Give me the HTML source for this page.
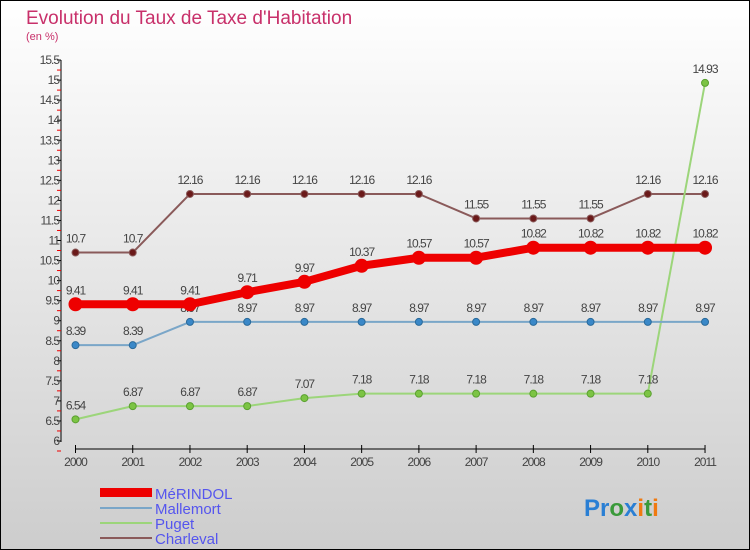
<!DOCTYPE html>
<html><head><meta charset="utf-8"><style>
body{margin:0}
#c{position:relative;width:750px;height:550px;overflow:hidden;font-family:"Liberation Sans",sans-serif}
</style></head><body>
<div id="c">
<svg width="750" height="550" xmlns="http://www.w3.org/2000/svg">
<defs><linearGradient id="bg" x1="0" y1="0" x2="0" y2="1"><stop offset="0" stop-color="#ffffff"/><stop offset="1" stop-color="#cdcdcd"/></linearGradient></defs>
<rect x="0.5" y="0.5" width="749" height="549" fill="url(#bg)" stroke="#000"/>
<text x="26" y="24" font-size="19" fill="#c8306a">Evolution du Taux de Taxe d'Habitation</text>
<text x="26" y="40" font-size="11" fill="#c8306a">(en %)</text>
<g id="axes"></g>
<g id="series"></g>
<g>
<rect x="100" y="488" width="52" height="9" fill="#e00"/>
<text x="155" y="499" font-size="15" fill="#5555ee">MéRINDOL</text>
<line x1="100" y1="508" x2="152" y2="508" stroke="#7aa6c8" stroke-width="2"/>
<text x="155" y="514" font-size="15" fill="#5555ee">Mallemort</text>
<line x1="100" y1="523" x2="152" y2="523" stroke="#9cd57a" stroke-width="2"/>
<text x="155" y="529" font-size="15" fill="#5555ee">Puget</text>
<line x1="100" y1="538" x2="152" y2="538" stroke="#8a5a5a" stroke-width="2"/>
<text x="155" y="544" font-size="15" fill="#5555ee">Charleval</text>
</g>
<text x="584" y="516" font-size="24" font-weight="bold"><tspan fill="#2a7fd4">Pr</tspan><tspan fill="#3a9a3a">o</tspan><tspan fill="#2a7fd4">x</tspan><tspan fill="#f07a10">i</tspan><tspan fill="#3a9a3a">t</tspan><tspan fill="#f07a10">i</tspan></text>
</svg>
</div>
<script>
const years=[2000,2001,2002,2003,2004,2005,2006,2007,2008,2009,2010,2011];
const merindol=[9.41,9.41,9.41,9.71,9.97,10.37,10.57,10.57,10.82,10.82,10.82,10.82];
const mallemort=[8.39,8.39,8.97,8.97,8.97,8.97,8.97,8.97,8.97,8.97,8.97,8.97];
const puget=[6.54,6.87,6.87,6.87,7.07,7.18,7.18,7.18,7.18,7.18,7.18,14.93];
const charleval=[10.7,10.7,12.16,12.16,12.16,12.16,12.16,11.55,11.55,11.55,12.16,12.16];
const yTicks=[6,6.5,7,7.5,8,8.5,9,9.5,10,10.5,11,11.5,12,12.5,13,13.5,14,14.5,15,15.5];
const NS="http://www.w3.org/2000/svg";
function xs(i){return 75.5+i*57.23;}
function ys(v){return 441-(v-6)*40.1;}
function mk(tag,attrs,parent,txt){const e=document.createElementNS(NS,tag);for(const k in attrs)e.setAttribute(k,attrs[k]);if(txt!==undefined)e.textContent=txt;parent.appendChild(e);return e;}
const ax=document.getElementById('axes');
let yl=mk('line',{x1:61,y1:60,x2:61,y2:442,stroke:'#000'},ax);


yTicks.forEach(t=>{
 const y=ys(t);
 mk('line',{x1:57,y1:y,x2:61,y2:y,stroke:'#000'},ax);
 mk('line',{x1:57,y1:y+10,x2:61,y2:y+10,stroke:'#e00'},ax);
 const lb=mk('text',{x:59,y:y+4,'font-size':12,'text-anchor':'end',fill:'#444','letter-spacing':'-1'},ax,String(t));
 
 
});
let xl=mk('line',{x1:75.5,y1:449,x2:xs(11),y2:449,stroke:'#000'},ax);


years.forEach((yr,i)=>{
 const x=xs(i);
 mk('line',{x1:x,y1:445,x2:x,y2:453,stroke:'#000'},ax);
 const lb=mk('text',{x:x,y:466,'font-size':12,'text-anchor':'middle',fill:'#444','letter-spacing':'-1'},ax,String(yr));
 
 
});
const sg=document.getElementById('series');
function draw(name,vals,color,dot,w,r,lc){
 const g=mk('g',{},sg);
 
 
 const pl=mk('polyline',{points:vals.map((v,i)=>xs(i)+','+ys(v)).join(' '),fill:'none',stroke:color,'stroke-width':w,'stroke-linejoin':'round'},g);
 
 
 vals.forEach((v,i)=>{
  const c=mk('circle',{cx:xs(i),cy:ys(v),r:r,fill:dot,stroke:lc,'stroke-width':1},g);
  
  
  const t=mk('text',{x:xs(i),y:ys(v)-10,'font-size':12,'text-anchor':'middle',fill:'#444','letter-spacing':'-1'},g,String(v));
  
  
 });
}
draw('charleval',charleval,'#8a5a5a','#6b1a1a',2,3.5,'#8a5a5a');
draw('puget',puget,'#9cd57a','#7cc444',2,3.5,'#5aa030');
draw('mallemort',mallemort,'#7aa6c8','#3a88c8',2,3.5,'#2a6a9a');
draw('merindol',merindol,'#e00','#e00',8,6.5,'#e00');
</script>
</body></html>
